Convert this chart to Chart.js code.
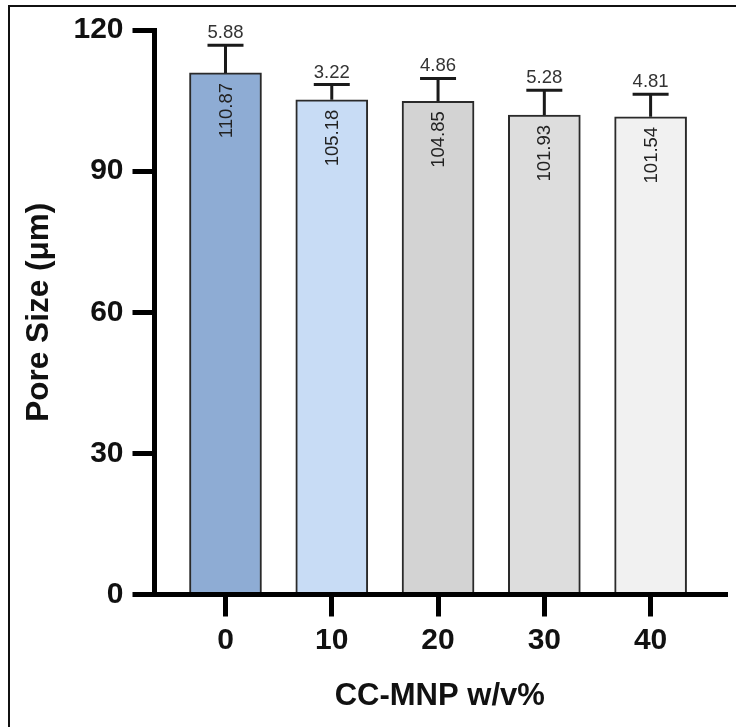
<!DOCTYPE html>
<html>
<head>
<meta charset="utf-8">
<script src="https://cdn.jsdelivr.net/npm/chart.js@4/dist/chart.umd.min.js"></script>
<style>
    html, body { margin: 0; padding: 0; background: #fff; overflow: hidden; }
    #wrap { position: relative; width: 736px; height: 727px; }
    #frame { position: absolute; left: 8px; top: 5px; right: -10px; bottom: -10px; border: 2px solid #111; pointer-events: none; }
</style>
</head>
<body>
<div id="wrap">
    <canvas id="poreChart"></canvas>
    <div id="frame"></div>
</div>
<script>
    "use strict";

    // values
    const categories = [0, 10, 20, 30, 40];
    const meanValues = [110.87, 105.18, 104.85, 101.93, 101.54];
    const sdValues = [5.88, 3.22, 4.86, 5.28, 4.81];
    const yTicks = [0, 30, 60, 90, 120];
    const barColors = ['#8eacd4', '#c8dcf5', '#d3d3d3', '#dddddd', '#f1f1f1'];

    const FONT = "'Liberation Sans', Arial, Helvetica, sans-serif";

    // error bars + value labels
    const errorBarPlugin = {
        id: 'errorBars',
        afterDatasetsDraw(chart) {
            const ctx = chart.ctx;
            const xs = chart.scales.x, ys = chart.scales.y;
            ctx.save();
            categories.forEach(function (c, i) {
                const x = xs.getPixelForValue(c);
                const yTop = ys.getPixelForValue(meanValues[i]);
                const yErr = ys.getPixelForValue(meanValues[i] + sdValues[i]);

                ctx.strokeStyle = '#1a1a1a';
                ctx.lineWidth = 3;
                ctx.beginPath();
                ctx.moveTo(x, yTop);
                ctx.lineTo(x, yErr);
                ctx.moveTo(x - 18, yErr);
                ctx.lineTo(x + 18, yErr);
                ctx.stroke();

                // sd label above cap
                ctx.fillStyle = '#333';
                ctx.font = '18.5px ' + FONT;
                ctx.textAlign = 'center';
                ctx.textBaseline = 'alphabetic';
                ctx.fillText(sdValues[i].toFixed(2), x, yErr - 7);

                // mean label, vertical, inside the bar
                ctx.save();
                ctx.translate(x, yTop + 10);
                ctx.rotate(-Math.PI / 2);
                ctx.textAlign = 'right';
                ctx.textBaseline = 'middle';
                ctx.fillStyle = '#222';
                ctx.fillText(meanValues[i].toFixed(2), 0, 1);
                ctx.restore();
            });
            ctx.restore();
        }
    };

    new Chart(document.getElementById('poreChart'), {
        type: 'bar',
        data: {
            datasets: [{
                data: categories.map((c, i) => ({ x: c, y: meanValues[i] })),
                backgroundColor: barColors,
                borderColor: '#2a2a2a',
                borderWidth: 2,
                barThickness: 72
            }]
        },
        options: {
            responsive: true,
            maintainAspectRatio: false,
            animation: false,
            layout: { padding: { left: 0, right: 11, top: 30, bottom: 0 } },
            plugins: {
                legend: { display: false },
                tooltip: { enabled: false }
            },
            scales: {
                x: {
                    type: 'linear',
                    offset: false,
                    min: -6.68,
                    max: 47.0,
                    afterBuildTicks: function (scale) {
                        scale.ticks = categories.map(v => ({ value: v }));
                    },
                    afterFit: function (scale) { scale.height = 132.5; },
                    grid: { offset: false, drawOnChartArea: false, drawTicks: true, tickLength: 22, lineWidth: 5, color: '#000' },
                    border: { display: true, width: 5, color: '#000' },
                    ticks: {
                        padding: 6,
                        color: '#111',
                        font: { family: FONT, size: 30, weight: 'bold' },
                        callback: v => String(v),
                        maxRotation: 0
                    },
                    title: {
                        display: true,
                        text: 'CC-MNP w/v%',
                        color: '#111',
                        font: { family: FONT, size: 31, weight: 'bold' },
                        padding: { top: 0, bottom: 12 }
                    }
                },
                y: {
                    min: 0,
                    max: 120,
                    afterBuildTicks: function (scale) {
                        scale.ticks = yTicks.map(v => ({ value: v }));
                    },
                    afterFit: function (scale) { scale.width = 154.5; },
                    grid: { drawOnChartArea: false, drawTicks: true, tickLength: 22, lineWidth: 5, color: '#000' },
                    border: { display: true, width: 5, color: '#000' },
                    ticks: {
                        padding: 9,
                        color: '#111',
                        font: { family: FONT, size: 30, weight: 'bold' }
                    },
                    title: {
                        display: true,
                        text: 'Pore Size (μm)',
                        color: '#111',
                        font: { family: FONT, size: 31.5, weight: 'bold' },
                        padding: { top: 20, bottom: 0 }
                    }
                }
            }
        },
        plugins: [errorBarPlugin]
    });
</script>
</body>
</html>
